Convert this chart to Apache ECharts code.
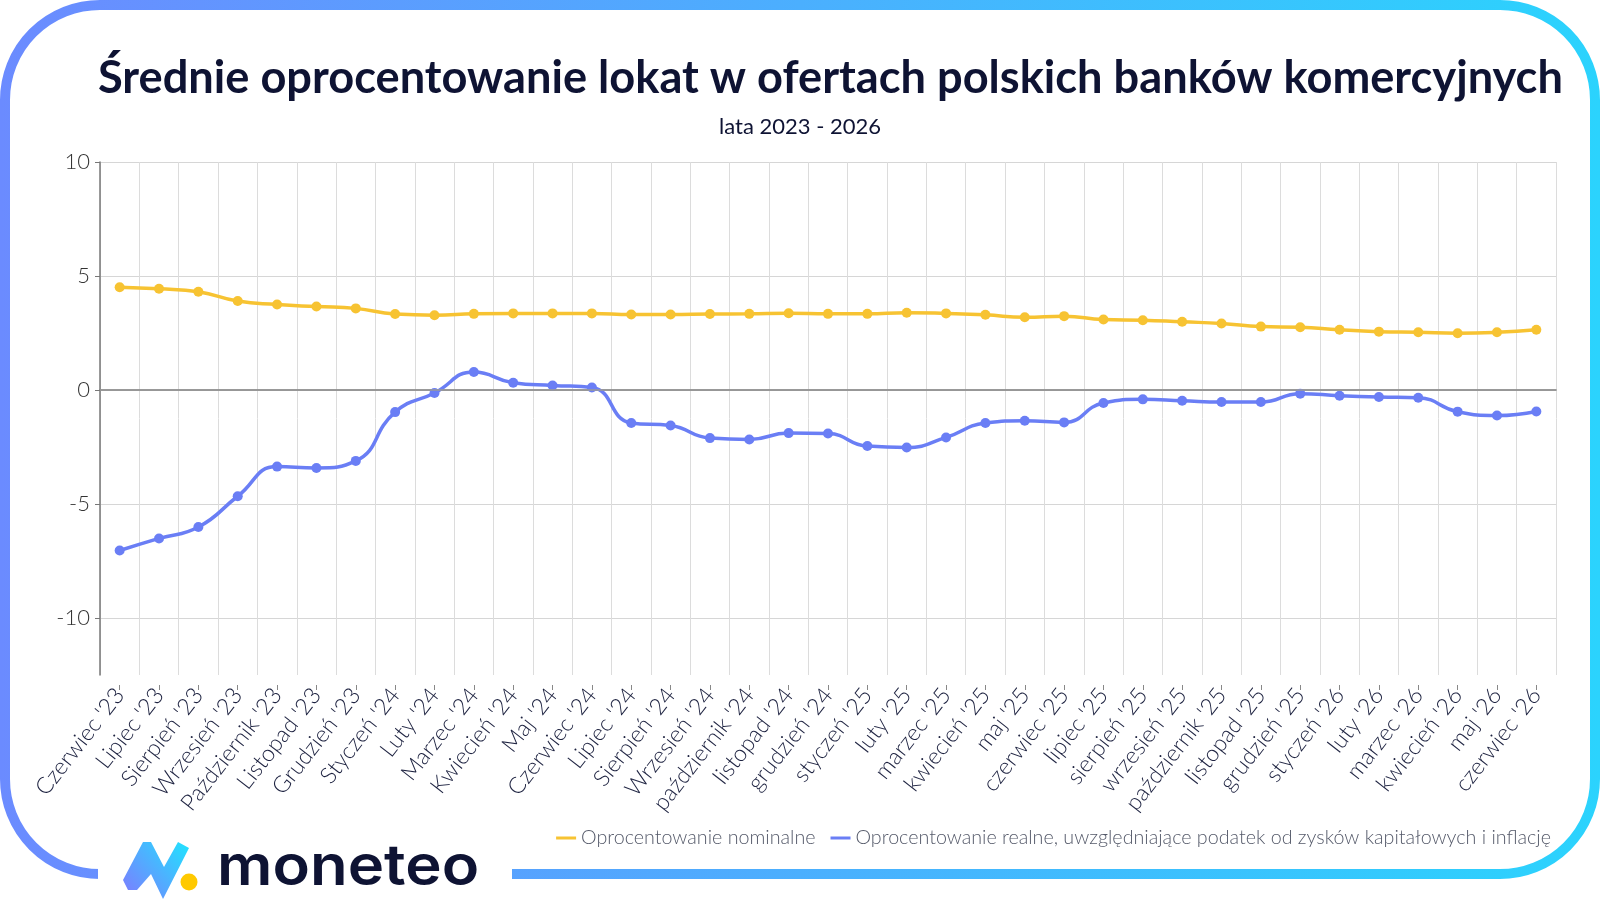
<!DOCTYPE html>
<html>
<head>
<meta charset="utf-8">
<script src="https://cdn.jsdelivr.net/npm/echarts@6/dist/echarts.min.js"></script>
<style>
  html, body { margin: 0; padding: 0; background: #fff; }
  #chart { width: 1600px; height: 900px; }
</style>
</head>
<body>
<div id="chart"></div>
<script>
var months = ["Czerwiec '23", "Lipiec '23", "Sierpień '23", "Wrzesień '23", "Październik '23", "Listopad '23",
  "Grudzień '23", "Styczeń '24", "Luty '24", "Marzec '24", "Kwiecień '24", "Maj '24", "Czerwiec '24",
  "Lipiec '24", "Sierpień '24", "Wrzesień '24", "październik '24", "listopad '24", "grudzień '24",
  "styczeń '25", "luty '25", "marzec '25", "kwiecień '25", "maj '25", "czerwiec '25", "lipiec '25",
  "sierpień '25", "wrzesień '25", "październik '25", "listopad '25", "grudzień '25", "styczeń '26",
  "luty '26", "marzec '26", "kwiecień '26", "maj '26", "czerwiec '26"]
var nominal = [4.51, 4.44, 4.31, 3.90, 3.75, 3.66, 3.58, 3.33, 3.28, 3.34, 3.36, 3.36, 3.36,
  3.31, 3.31, 3.33, 3.34, 3.37, 3.34, 3.34, 3.39, 3.36, 3.30, 3.19, 3.24,
  3.09, 3.06, 2.99, 2.92, 2.78, 2.75, 2.64, 2.56, 2.53, 2.49, 2.53, 2.64]
var real = [-7.04, -6.51, -6.01, -4.66, -3.36, -3.42, -3.11, -0.97, -0.13, 0.79, 0.32, 0.20, 0.11,
  -1.45, -1.56, -2.11, -2.17, -1.89, -1.91, -2.46, -2.52, -2.08, -1.45, -1.35, -1.42,
  -0.57, -0.41, -0.47, -0.53, -0.53, -0.16, -0.25, -0.31, -0.34, -0.95, -1.12, -0.94]
var yTicks = [-10, -5, 0, 5, 10]
var seriesNames = ['Oprocentowanie nominalne', 'Oprocentowanie realne, uwzględniające podatek od zysków kapitałowych i inflację']

var navy = '#0e1333'
var yellow = '#f7c332'
var blue = '#6a7ef5'
var frameGrad = new echarts.graphic.LinearGradient(0, 0, 1, 0, [
  { offset: 0, color: '#6b8bff' },
  { offset: 1, color: '#2bd3fd' }
])

var chart = echarts.init(document.getElementById('chart'))

var option = {
  animation: false,
  textStyle: { fontFamily: 'Lato' },
  title: [
    {
      text: 'Średnie oprocentowanie lokat w ofertach polskich banków komercyjnych',
      left: 93, top: 51,
      textStyle: { fontFamily: 'Lato', fontWeight: 'bold', fontSize: 45.2, color: navy }
    },
    {
      text: 'lata 2023 - 2026',
      left: 'center', top: 111,
      textStyle: { fontFamily: 'Lato', fontWeight: 'normal', fontSize: 22, color: navy }
    }
  ],
  legend: {
    right: 44, top: 823,
    icon: 'rect', itemWidth: 20, itemHeight: 3, itemGap: 15,
    textStyle: { fontFamily: 'Lato', fontWeight: 300, fontSize: 19.7, color: '#555a6a' },
    data: seriesNames
  },
  grid: { left: 100, right: 44, top: 162, bottom: 225 },
  xAxis: [
    {
      type: 'category', data: months,
      axisLine: { lineStyle: { color: '#777', width: 1.5 } },
      axisTick: { show: false },
      axisLabel: { show: false, interval: 0 },
      splitLine: { show: true, interval: 0, lineStyle: { color: '#dcdcdc', width: 1 } }
    },
    {
      type: 'category', data: months, position: 'bottom', offset: 10,
      axisLine: { show: false },
      axisTick: { show: true, alignWithLabel: true, interval: 0, length: 5, lineStyle: { color: '#888' } },
      axisLabel: { rotate: 52, margin: 6, fontFamily: 'Lato', fontWeight: 300, fontSize: 23, color: '#1d2240', interval: 0 }
    }
  ],
  yAxis: {
    type: 'value', min: -12.5, max: 10,
    axisLine: { show: true, lineStyle: { color: '#777', width: 1.5 } },
    axisTick: { show: true, length: 5, customValues: yTicks, lineStyle: { color: '#777' } },
    axisLabel: { customValues: yTicks, margin: 10, fontFamily: 'Lato', fontWeight: 300, fontSize: 22, color: '#333' },
    splitLine: { show: true, lineStyle: { color: '#d6d6d6', width: 1 } }
  },
  series: [
    {
      type: 'line', data: [], z: 1, silent: true,
      markLine: {
        silent: true, symbol: ['none', 'none'], label: { show: false },
        lineStyle: { color: '#9a9a9a', type: 'solid', width: 1.5 },
        data: [{ yAxis: 0 }]
      }
    },
    {
      name: seriesNames[0], type: 'line', data: nominal, smooth: true,
      symbol: 'circle', symbolSize: 10, z: 3,
      itemStyle: { color: yellow }, lineStyle: { color: yellow, width: 3.5 }
    },
    {
      name: seriesNames[1], type: 'line', data: real, smooth: true,
      symbol: 'circle', symbolSize: 10, z: 3,
      itemStyle: { color: blue }, lineStyle: { color: blue, width: 3.5 }
    }
  ],
  graphic: [
    {
      type: 'rect', silent: true, z: 0,
      shape: { x: 5, y: 5, width: 1590, height: 869, r: 95 },
      style: { fill: 'none', stroke: frameGrad, lineWidth: 10 }
    },
    {
      type: 'rect', silent: true, z: 1,
      shape: { x: 98, y: 862, width: 414, height: 30 },
      style: { fill: '#fff' }
    },
    {
      type: 'polygon', silent: true, z: 2,
      shape: { points: [[123, 880], [143, 842], [151, 842], [164, 867], [178, 842], [189, 848], [163, 899], [151, 874], [137, 890], [128, 890]] },
      style: {
        fill: new echarts.graphic.LinearGradient(0, 1, 1, 0, [
          { offset: 0, color: '#8079ff' },
          { offset: 1, color: '#1fe4ff' }
        ])
      }
    },
    {
      type: 'circle', silent: true, z: 2,
      shape: { cx: 189, cy: 882, r: 8.5 },
      style: { fill: '#ffc900' }
    },
    {
      type: 'text', silent: true, z: 2,
      x: 217, y: 896, scaleX: 1.1,
      style: { text: 'moneteo', fill: navy, font: '600 56px Inter', textVerticalAlign: 'bottom' }
    }
  ]
}

chart.setOption(option)
</script>
</body>
</html>
